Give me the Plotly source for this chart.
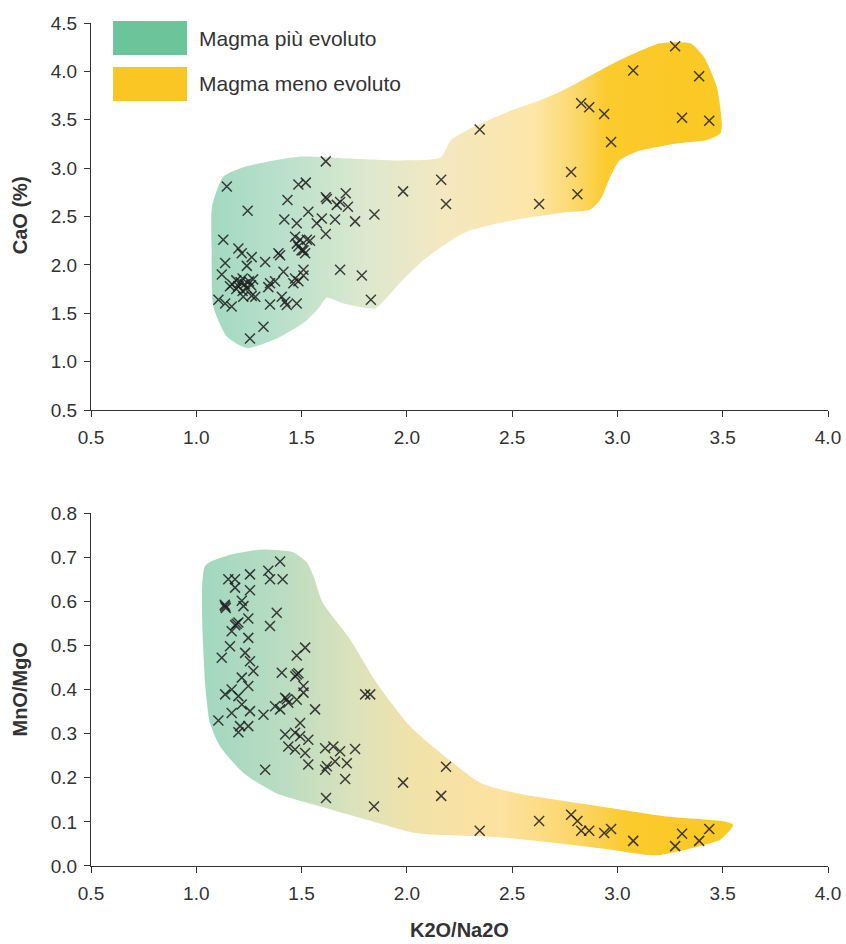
import plotly.graph_objects as go

# ---- CaO (%) vs K2O/Na2O ----
cao_x = [1.145, 1.615, 1.485, 1.520, 1.433, 1.244, 1.615, 1.620, 1.710, 1.683,
         1.667, 1.720, 1.532, 1.418, 1.477, 1.596, 1.572, 1.659, 1.754, 1.846,
         1.615, 1.128, 1.469, 1.493, 1.540, 1.477, 1.509, 1.517, 1.485, 1.390,
         1.398, 1.200, 1.216, 1.263, 1.327, 1.137, 1.240, 1.683, 1.786, 1.829,
         1.121, 1.170, 1.190, 1.200, 1.210, 1.220, 1.230, 1.240, 1.250, 1.190,
         1.260, 1.220, 1.160, 1.270, 1.414, 1.350, 1.374, 1.342, 1.469, 1.485,
         1.509, 1.461, 1.509, 1.105, 1.137, 1.168, 1.223, 1.263, 1.350, 1.406,
         1.422, 1.430, 1.477, 1.319, 1.255, 1.280, 1.525, 1.500,
         1.982, 2.163, 2.186, 2.346, 2.628, 2.780, 2.810, 2.828, 2.866, 2.937,
         2.970, 3.075, 3.274, 3.307, 3.388, 3.436]
cao_y = [2.81, 3.07, 2.83, 2.85, 2.67, 2.56, 2.70, 2.68, 2.74, 2.65,
         2.62, 2.60, 2.55, 2.47, 2.43, 2.48, 2.43, 2.47, 2.45, 2.52,
         2.32, 2.26, 2.29, 2.26, 2.25, 2.22, 2.15, 2.12, 2.19, 2.12,
         2.10, 2.17, 2.12, 2.08, 2.03, 2.02, 1.99, 1.95, 1.89, 1.64,
         1.90, 1.80, 1.84, 1.78, 1.82, 1.86, 1.80, 1.76, 1.83, 1.75,
         1.79, 1.73, 1.78, 1.85, 1.93, 1.81, 1.83, 1.77, 1.86, 1.83,
         1.89, 1.81, 1.95, 1.64, 1.60, 1.57, 1.67, 1.68, 1.59, 1.67,
         1.62, 1.585, 1.60, 1.36, 1.24, 1.67, 2.26, 2.15,
         2.76, 2.88, 2.63, 3.40, 2.63, 2.96, 2.73, 3.67, 3.63, 3.56,
         3.27, 4.01, 4.26, 3.52, 3.95, 3.49]

# ---- MnO/MgO vs K2O/Na2O ----
mno_x = [1.398, 1.342, 1.350, 1.410, 1.255, 1.152, 1.184, 1.255, 1.184, 1.216,
         1.224, 1.137, 1.140, 1.135, 1.382, 1.350, 1.247, 1.192, 1.200, 1.185,
         1.168, 1.247, 1.160, 1.121, 1.232, 1.255, 1.271, 1.517, 1.477, 1.406,
         1.477, 1.470, 1.485, 1.216, 1.247, 1.509, 1.509, 1.137, 1.168, 1.200,
         1.422, 1.430, 1.374, 1.398, 1.437, 1.477, 1.564, 1.319, 1.168, 1.216,
         1.255, 1.105, 1.208, 1.247, 1.200, 1.493, 1.422, 1.469, 1.493, 1.437,
         1.469, 1.532, 1.517, 1.532, 1.327, 1.802, 1.826, 1.612, 1.651, 1.683,
         1.754, 1.612, 1.659, 1.715, 1.620, 1.707, 1.616, 1.844,
         1.982, 2.163, 2.186, 2.346, 2.628, 2.780, 2.810, 2.828, 2.866, 2.937,
         2.970, 3.075, 3.274, 3.307, 3.388, 3.436]
mno_y = [0.690, 0.669, 0.650, 0.650, 0.661, 0.650, 0.650, 0.625, 0.631, 0.601,
         0.589, 0.589, 0.585, 0.592, 0.574, 0.544, 0.561, 0.549, 0.552, 0.546,
         0.532, 0.517, 0.498, 0.472, 0.483, 0.464, 0.442, 0.495, 0.477, 0.438,
         0.434, 0.430, 0.437, 0.427, 0.408, 0.408, 0.393, 0.389, 0.400, 0.385,
         0.381, 0.378, 0.362, 0.355, 0.370, 0.377, 0.355, 0.343, 0.347, 0.366,
         0.351, 0.330, 0.317, 0.317, 0.303, 0.324, 0.298, 0.302, 0.294, 0.271,
         0.264, 0.286, 0.256, 0.230, 0.218, 0.389, 0.389, 0.267, 0.271, 0.260,
         0.265, 0.218, 0.237, 0.233, 0.226, 0.197, 0.154, 0.135,
         0.189, 0.159, 0.225, 0.080, 0.102, 0.116, 0.102, 0.080, 0.080, 0.075,
         0.084, 0.057, 0.045, 0.073, 0.057, 0.084]

# ---- outlines of the compositional fields ----
cao_field_x = [1.075, 1.128, 1.224, 1.493, 1.720, 1.970, 2.160, 2.210, 2.310, 2.500,
               2.630, 2.728, 2.918, 3.045, 3.203, 3.346, 3.410, 3.472, 3.496, 3.490,
               3.425, 3.266, 3.090, 3.010, 2.966, 2.918, 2.870, 2.740, 2.500, 2.270,
               2.080, 1.970, 1.900, 1.850, 1.700, 1.620, 1.580, 1.509, 1.382, 1.240,
               1.145, 1.081, 1.073, 1.075]
cao_field_y = [2.600, 2.910, 3.010, 3.120, 3.100, 3.080, 3.110, 3.290, 3.420, 3.600,
               3.700, 3.790, 4.010, 4.150, 4.290, 4.290, 4.150, 3.840, 3.460, 3.360,
               3.290, 3.250, 3.170, 3.080, 2.910, 2.670, 2.570, 2.540, 2.460, 2.330,
               2.050, 1.820, 1.650, 1.550, 1.600, 1.660, 1.550, 1.400, 1.240, 1.140,
               1.260, 1.570, 2.150, 2.600]

mno_field_x = [1.042, 1.145, 1.303, 1.460, 1.525, 1.556, 1.600, 1.730, 1.857, 2.015,
               2.190, 2.350, 2.520, 2.920, 3.235, 3.520, 3.550, 3.490, 3.390, 3.200,
               3.140, 2.920, 2.440, 2.050, 1.810, 1.590, 1.380, 1.224, 1.113, 1.065,
               1.042, 1.042]
mno_field_y = [0.680, 0.703, 0.717, 0.711, 0.688, 0.658, 0.597, 0.514, 0.415, 0.317,
               0.245, 0.188, 0.165, 0.135, 0.112, 0.100, 0.093, 0.060, 0.045, 0.025,
               0.025, 0.040, 0.065, 0.074, 0.105, 0.135, 0.165, 0.211, 0.271, 0.324,
               0.415, 0.680]

# colour ramp (K2O/Na2O position, colour) from evolved to less evolved magma
cao_ramp = [(1.07, "#a3d9c0"), (1.40, "#b9e0cb"), (1.80, "#dce8cf"), (2.20, "#f5e8bf"),
            (2.60, "#fde6a8"), (2.80, "#fcd86c"), (2.95, "#fbca2c"), (3.50, "#fbc923")]
mno_ramp = [(1.04, "#a2d8bf"), (1.40, "#b9dcc2"), (1.75, "#dce2bb"), (2.05, "#f2e2a8"),
            (2.45, "#fde2a0"), (2.80, "#fcd66a"), (3.05, "#fbca2c"), (3.55, "#fbc923")]

LEGEND_GREEN = "#6cc59a"
LEGEND_YELLOW = "#f9c623"
INK = "#333333"
FONT = "Liberation Sans Narrow, Arial Narrow, Liberation Sans, Arial, sans-serif"


def ramp_scale(ramp):
    lo, hi = ramp[0][0], ramp[-1][0]
    return lo, hi, [[(p - lo) / (hi - lo), c] for p, c in ramp]


fig = go.Figure()

for fx, fy, ramp, xa, ya in [(cao_field_x, cao_field_y, cao_ramp, "x", "y"),
                             (mno_field_x, mno_field_y, mno_ramp, "x2", "y2")]:
    lo, hi, cs = ramp_scale(ramp)
    fig.add_trace(go.Scatter(
        x=fx, y=fy, xaxis=xa, yaxis=ya, mode="lines", fill="toself",
        line=dict(width=0, color="rgba(0,0,0,0)", shape="spline", smoothing=0.6),
        fillgradient=dict(type="horizontal", colorscale=cs, start=lo, stop=hi),
        hoverinfo="skip", showlegend=False))

marker = dict(symbol="x-thin", size=10, color="rgba(30,30,30,0.85)",
              line=dict(width=1.5, color="rgba(30,30,30,0.85)"))
fig.add_trace(go.Scatter(x=cao_x, y=cao_y, mode="markers", marker=marker,
                         xaxis="x", yaxis="y", showlegend=False))
fig.add_trace(go.Scatter(x=mno_x, y=mno_y, mode="markers", marker=marker,
                         xaxis="x2", yaxis="y2", showlegend=False))

axis_common = dict(showline=True, linecolor=INK, linewidth=1, ticks="outside",
                   ticklen=6, tickcolor=INK, showgrid=False, zeroline=False,
                   automargin=False,
                   tickfont=dict(family=FONT, size=19, color=INK))
x_axis = dict(ticklabelstandoff=4, **axis_common)
y_axis = dict(ticklabelstandoff=3, **axis_common)

fig.update_layout(
    width=846, height=944,
    margin=dict(l=91, r=18, t=23, b=78),
    paper_bgcolor="white", plot_bgcolor="white",
    xaxis=dict(domain=[0, 1], range=[0.5, 4.0], dtick=0.5, tickformat=".1f",
               anchor="y", **x_axis),
    yaxis=dict(domain=[0.5409, 1], range=[0.5, 4.5], dtick=0.5, tickformat=".1f",
               anchor="x", **y_axis),
    xaxis2=dict(domain=[0, 1], range=[0.5, 4.0], dtick=0.5, tickformat=".1f",
                anchor="y2", **x_axis),
    yaxis2=dict(domain=[0, 0.4187], range=[0, 0.8], dtick=0.1, tickformat=".1f",
                anchor="x2", **y_axis),
)

# legend blocks
legend_items = [("Magma più evoluto", LEGEND_GREEN, 0.962, 1.0024),
                ("Magma meno evoluto", LEGEND_YELLOW, 0.9075, 0.9478)]
for label, colour, y0, y1 in legend_items:
    fig.add_shape(type="rect", xref="paper", yref="paper",
                  x0=0.0299, x1=0.1303, y0=y0, y1=y1,
                  fillcolor=colour, line=dict(width=0))
    fig.add_annotation(text=label, xref="paper", yref="paper",
                       x=0.1438, y=(y0 + y1) / 2, xanchor="left", yanchor="middle",
                       showarrow=False, font=dict(family=FONT, size=21, color=INK))

# axis titles
title_font = dict(family=FONT, size=20, color=INK)
fig.add_annotation(text="<b>CaO (%)</b>", xref="paper", yref="paper",
                   x=-0.0963, y=0.772, textangle=-90, showarrow=False,
                   xanchor="center", yanchor="middle", font=title_font)
fig.add_annotation(text="<b>MnO/MgO</b>", xref="paper", yref="paper",
                   x=-0.0963, y=0.2094, textangle=-90, showarrow=False,
                   xanchor="center", yanchor="middle", font=title_font)
fig.add_annotation(text="<b>K2O/Na2O</b>", xref="paper", yref="paper",
                   x=0.5, y=-0.076, showarrow=False,
                   xanchor="center", yanchor="middle", font=title_font)

fig.write_html("out.html")
